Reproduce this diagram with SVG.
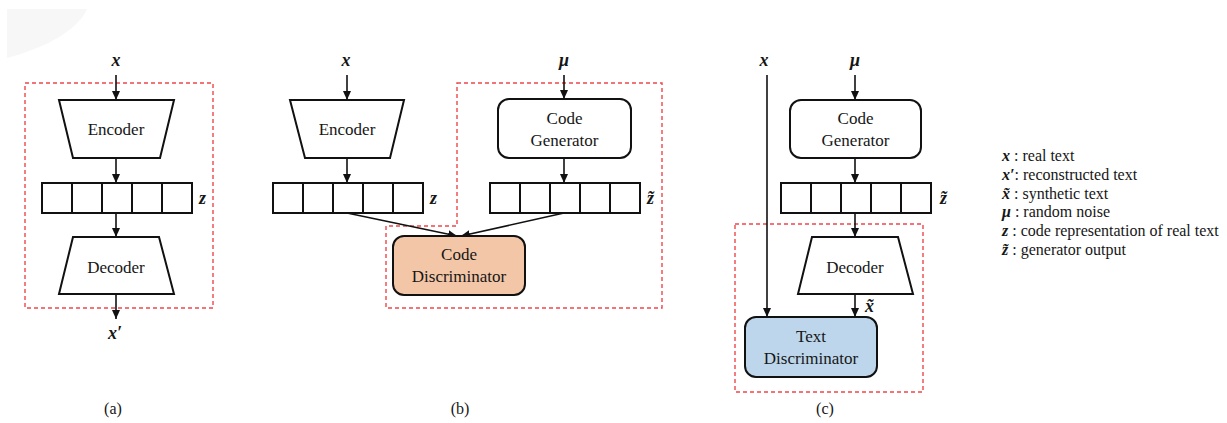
<svg xmlns="http://www.w3.org/2000/svg" width="1227" height="423" viewBox="0 0 1227 423">
  <defs>
    <marker id="arrow" markerUnits="userSpaceOnUse" markerWidth="10" markerHeight="10" refX="9" refY="4" orient="auto">
      <path d="M0,0 L9,4 L0,8 Z" fill="#111"/>
    </marker>
  </defs>
  <style>
    .lbl { font-family: "Liberation Serif", "Times New Roman", serif; font-size: 17px; fill: #161616; text-anchor: middle; }
    .var { font-family: "Liberation Serif", "Times New Roman", serif; font-size: 18px; font-weight: bold; font-style: italic; fill: #161616; }
    .leg { font-family: "Liberation Serif", "Times New Roman", serif; font-size: 16px; fill: #161616; }
    .legv { font-weight: bold; font-style: italic; }
    .cap { font-family: "Liberation Serif", "Times New Roman", serif; font-size: 16px; fill: #161616; text-anchor: middle; }
    .shape { fill: #fff; stroke: #111; stroke-width: 2; }
    .cell { fill: #fff; stroke: #111; stroke-width: 2; }
    .edge { stroke: #111; stroke-width: 1.6; fill: none; marker-end: url(#arrow); }
    .group { fill: none; stroke: #f0474a; stroke-width: 1.4; stroke-dasharray: 4 3; }
  </style>

  <!-- faint corner shade -->
  <path d="M7,9 L87,9 C78,30 45,48 7,58 Z" fill="#f7f7f7"/>

  <!-- grouping outlines -->
  <g id="groups">
    <rect class="group" x="25" y="83" width="188" height="225"/>
    <path class="group" d="M457,83 L662,83 L662,308 L386,308 L386,226 L457,226 Z"/>
    <rect class="group" x="735" y="224" width="188" height="168"/>
  </g>

  <!-- connectors -->
  <g id="connectors">
    <line class="edge" x1="116" y1="75" x2="116" y2="100"/>
    <line class="edge" x1="116" y1="158" x2="116" y2="183"/>
    <line class="edge" x1="116" y1="213" x2="116" y2="237"/>
    <line class="edge" x1="116" y1="294" x2="116" y2="319"/>

    <line class="edge" x1="347" y1="75" x2="347" y2="100"/>
    <line class="edge" x1="347" y1="158" x2="347" y2="183"/>
    <line class="edge" x1="564" y1="75" x2="564" y2="99"/>
    <line class="edge" x1="564" y1="158" x2="564" y2="183"/>
    <line class="edge" x1="347" y1="213" x2="457" y2="236"/>
    <line class="edge" x1="564" y1="213" x2="461" y2="236"/>

    <line class="edge" x1="767" y1="75" x2="767" y2="317"/>
    <line class="edge" x1="855" y1="75" x2="855" y2="100"/>
    <line class="edge" x1="855" y1="158" x2="855" y2="183"/>
    <line class="edge" x1="855" y1="213" x2="855" y2="237"/>
    <line class="edge" x1="855" y1="294" x2="855" y2="317"/>
  </g>

  <!-- (a) autoencoder -->
  <g id="a-encoder">
    <polygon class="shape" points="59,100 174,100 160,158 73,158"/>
    <text class="lbl" x="116" y="135">Encoder</text>
  </g>
  <g id="a-code">
    <rect class="cell" x="42" y="183" width="30" height="30"/>
    <rect class="cell" x="72" y="183" width="30" height="30"/>
    <rect class="cell" x="102" y="183" width="30" height="30"/>
    <rect class="cell" x="132" y="183" width="30" height="30"/>
    <rect class="cell" x="162" y="183" width="30" height="30"/>
  </g>
  <g id="a-decoder">
    <polygon class="shape" points="73,237 159,237 174,294 59,294"/>
    <text class="lbl" x="116" y="273">Decoder</text>
  </g>
  <text class="var" x="116" y="66" text-anchor="middle">x</text>
  <text class="var" x="199" y="204">z</text>
  <text class="var" x="115" y="339" text-anchor="middle">x′</text>
  <text class="cap" x="113" y="414">(a)</text>

  <!-- (b) code GAN -->
  <g id="b-encoder">
    <polygon class="shape" points="290,100 404,100 390,158 305,158"/>
    <text class="lbl" x="347" y="135">Encoder</text>
  </g>
  <g id="b-code">
    <rect class="cell" x="273" y="183" width="30" height="30"/>
    <rect class="cell" x="303" y="183" width="30" height="30"/>
    <rect class="cell" x="333" y="183" width="30" height="30"/>
    <rect class="cell" x="363" y="183" width="30" height="30"/>
    <rect class="cell" x="393" y="183" width="30" height="30"/>
  </g>
  <g id="b-generator">
    <rect class="shape" x="498" y="99" width="133" height="59" rx="11"/>
    <text class="lbl" x="564.5" y="124">Code</text>
    <text class="lbl" x="564.5" y="146">Generator</text>
  </g>
  <g id="b-gen-code">
    <rect class="cell" x="490" y="183" width="30" height="30"/>
    <rect class="cell" x="520" y="183" width="30" height="30"/>
    <rect class="cell" x="550" y="183" width="30" height="30"/>
    <rect class="cell" x="580" y="183" width="30" height="30"/>
    <rect class="cell" x="610" y="183" width="30" height="30"/>
  </g>
  <g id="b-discriminator">
    <rect x="393" y="236" width="132" height="59" rx="11" fill="#f4c6a8" stroke="#111" stroke-width="2"/>
    <text class="lbl" x="459" y="260">Code</text>
    <text class="lbl" x="459" y="282">Discriminator</text>
  </g>
  <text class="var" x="346" y="66" text-anchor="middle">x</text>
  <text class="var" x="564" y="66" text-anchor="middle">μ</text>
  <text class="var" x="430" y="204">z</text>
  <text class="var" x="647" y="204">z̃</text>
  <text class="cap" x="460" y="414">(b)</text>

  <!-- (c) text GAN -->
  <g id="c-generator">
    <rect class="shape" x="790" y="100" width="131" height="58" rx="11"/>
    <text class="lbl" x="855.5" y="124">Code</text>
    <text class="lbl" x="855.5" y="146">Generator</text>
  </g>
  <g id="c-gen-code">
    <rect class="cell" x="781" y="183" width="30" height="30"/>
    <rect class="cell" x="811" y="183" width="30" height="30"/>
    <rect class="cell" x="841" y="183" width="30" height="30"/>
    <rect class="cell" x="871" y="183" width="30" height="30"/>
    <rect class="cell" x="901" y="183" width="30" height="30"/>
  </g>
  <g id="c-decoder">
    <polygon class="shape" points="812,237 898,237 913,294 798,294"/>
    <text class="lbl" x="855" y="273">Decoder</text>
  </g>
  <g id="c-discriminator">
    <rect x="745" y="317" width="132" height="60" rx="11" fill="#bdd6ec" stroke="#111" stroke-width="2"/>
    <text class="lbl" x="811" y="342">Text</text>
    <text class="lbl" x="811" y="364">Discriminator</text>
  </g>
  <text class="var" x="764" y="66" text-anchor="middle">x</text>
  <text class="var" x="855" y="66" text-anchor="middle">μ</text>
  <text class="var" x="940" y="204">z̃</text>
  <text class="var" x="865" y="312">x̃</text>
  <text class="cap" x="825" y="414">(c)</text>

  <!-- legend -->
  <g id="legend" class="leg">
    <text x="1002" y="161"><tspan class="legv">x</tspan> : real text</text>
    <text x="1002" y="180"><tspan class="legv">x′</tspan>: reconstructed text</text>
    <text x="1002" y="199"><tspan class="legv">x̃</tspan> : synthetic text</text>
    <text x="1002" y="217"><tspan class="legv">μ</tspan> : random noise</text>
    <text x="1002" y="236"><tspan class="legv">z</tspan> : code representation of real text</text>
    <text x="1002" y="255"><tspan class="legv">z̃</tspan> : generator output</text>
  </g>
</svg>
